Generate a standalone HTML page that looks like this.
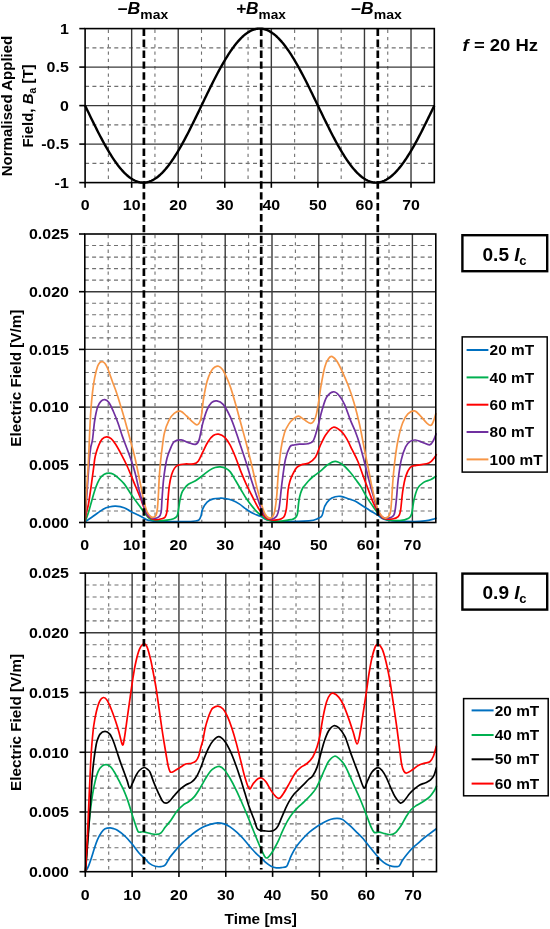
<!DOCTYPE html>
<html><head><meta charset="utf-8"><title>Figure</title>
<style>
html,body{margin:0;padding:0;background:#fff;}
body{width:550px;height:929px;overflow:hidden;font-family:"Liberation Sans",sans-serif;}
svg{display:block;will-change:transform;}
</style></head><body>
<svg width="550" height="929" viewBox="0 0 550 929">
<rect width="550" height="929" fill="#fff"/>
<line x1="108.38" y1="29.6" x2="108.38" y2="182.6" stroke="#707070" stroke-width="1.1" stroke-dasharray="3.3 4"/>
<line x1="154.94" y1="29.6" x2="154.94" y2="182.6" stroke="#707070" stroke-width="1.1" stroke-dasharray="3.3 4"/>
<line x1="201.5" y1="29.6" x2="201.5" y2="182.6" stroke="#707070" stroke-width="1.1" stroke-dasharray="3.3 4"/>
<line x1="248.06" y1="29.6" x2="248.06" y2="182.6" stroke="#707070" stroke-width="1.1" stroke-dasharray="3.3 4"/>
<line x1="294.62" y1="29.6" x2="294.62" y2="182.6" stroke="#707070" stroke-width="1.1" stroke-dasharray="3.3 4"/>
<line x1="341.18" y1="29.6" x2="341.18" y2="182.6" stroke="#707070" stroke-width="1.1" stroke-dasharray="3.3 4"/>
<line x1="387.74" y1="29.6" x2="387.74" y2="182.6" stroke="#707070" stroke-width="1.1" stroke-dasharray="3.3 4"/>
<line x1="85.1" y1="47.85" x2="434.3" y2="47.85" stroke="#707070" stroke-width="1.1" stroke-dasharray="4 3.3"/>
<line x1="85.1" y1="86.35" x2="434.3" y2="86.35" stroke="#707070" stroke-width="1.1" stroke-dasharray="4 3.3"/>
<line x1="85.1" y1="124.85" x2="434.3" y2="124.85" stroke="#707070" stroke-width="1.1" stroke-dasharray="4 3.3"/>
<line x1="85.1" y1="163.35" x2="434.3" y2="163.35" stroke="#707070" stroke-width="1.1" stroke-dasharray="4 3.3"/>
<line x1="131.66" y1="28.6" x2="131.66" y2="182.6" stroke="#3a3a3a" stroke-width="1.4"/>
<line x1="178.22" y1="28.6" x2="178.22" y2="182.6" stroke="#3a3a3a" stroke-width="1.4"/>
<line x1="224.78" y1="28.6" x2="224.78" y2="182.6" stroke="#3a3a3a" stroke-width="1.4"/>
<line x1="271.34" y1="28.6" x2="271.34" y2="182.6" stroke="#3a3a3a" stroke-width="1.4"/>
<line x1="317.9" y1="28.6" x2="317.9" y2="182.6" stroke="#3a3a3a" stroke-width="1.4"/>
<line x1="364.46" y1="28.6" x2="364.46" y2="182.6" stroke="#3a3a3a" stroke-width="1.4"/>
<line x1="411.02" y1="28.6" x2="411.02" y2="182.6" stroke="#3a3a3a" stroke-width="1.4"/>
<line x1="85.1" y1="67.1" x2="434.3" y2="67.1" stroke="#3a3a3a" stroke-width="1.4"/>
<line x1="85.1" y1="105.6" x2="434.3" y2="105.6" stroke="#3a3a3a" stroke-width="1.4"/>
<line x1="85.1" y1="144.1" x2="434.3" y2="144.1" stroke="#3a3a3a" stroke-width="1.4"/>
<polyline fill="none" stroke="#000" stroke-width="2.4" stroke-linejoin="round" points="85.1,105.6 86.26,108.02 87.43,110.43 88.59,112.85 89.76,115.25 90.92,117.65 92.08,120.03 93.25,122.4 94.41,124.75 95.58,127.08 96.74,129.39 97.9,131.68 99.07,133.95 100.23,136.18 101.4,138.39 102.56,140.56 103.72,142.7 104.89,144.8 106.05,146.86 107.22,148.88 108.38,150.86 109.54,152.79 110.71,154.68 111.87,156.52 113.04,158.31 114.2,160.05 115.36,161.73 116.53,163.36 117.69,164.93 118.86,166.44 120.02,167.89 121.18,169.29 122.35,170.61 123.51,171.88 124.68,173.08 125.84,174.21 127,175.27 128.17,176.27 129.33,177.19 130.5,178.05 131.66,178.83 132.82,179.54 133.99,180.18 135.15,180.75 136.32,181.24 137.48,181.65 138.64,181.99 139.81,182.26 140.97,182.45 142.14,182.56 143.3,182.6 144.46,182.56 145.63,182.45 146.79,182.26 147.96,181.99 149.12,181.65 150.28,181.24 151.45,180.75 152.61,180.18 153.78,179.54 154.94,178.83 156.1,178.05 157.27,177.19 158.43,176.27 159.6,175.27 160.76,174.21 161.92,173.08 163.09,171.88 164.25,170.61 165.42,169.29 166.58,167.89 167.74,166.44 168.91,164.93 170.07,163.36 171.24,161.73 172.4,160.05 173.56,158.31 174.73,156.52 175.89,154.68 177.06,152.79 178.22,150.86 179.38,148.88 180.55,146.86 181.71,144.8 182.88,142.7 184.04,140.56 185.2,138.39 186.37,136.18 187.53,133.95 188.7,131.68 189.86,129.39 191.02,127.08 192.19,124.75 193.35,122.4 194.52,120.03 195.68,117.65 196.84,115.25 198.01,112.85 199.17,110.43 200.34,108.02 201.5,105.6 202.66,103.18 203.83,100.77 204.99,98.35 206.16,95.95 207.32,93.55 208.48,91.17 209.65,88.8 210.81,86.45 211.98,84.12 213.14,81.81 214.3,79.52 215.47,77.25 216.63,75.02 217.8,72.81 218.96,70.64 220.12,68.5 221.29,66.4 222.45,64.34 223.62,62.32 224.78,60.34 225.94,58.41 227.11,56.52 228.27,54.68 229.44,52.89 230.6,51.15 231.76,49.47 232.93,47.84 234.09,46.27 235.26,44.76 236.42,43.31 237.58,41.91 238.75,40.59 239.91,39.32 241.08,38.12 242.24,36.99 243.4,35.93 244.57,34.93 245.73,34.01 246.9,33.15 248.06,32.37 249.22,31.66 250.39,31.02 251.55,30.45 252.72,29.96 253.88,29.55 255.04,29.21 256.21,28.94 257.37,28.75 258.54,28.64 259.7,28.6 260.86,28.64 262.03,28.75 263.19,28.94 264.36,29.21 265.52,29.55 266.68,29.96 267.85,30.45 269.01,31.02 270.18,31.66 271.34,32.37 272.5,33.15 273.67,34.01 274.83,34.93 276,35.93 277.16,36.99 278.32,38.12 279.49,39.32 280.65,40.59 281.82,41.91 282.98,43.31 284.14,44.76 285.31,46.27 286.47,47.84 287.64,49.47 288.8,51.15 289.96,52.89 291.13,54.68 292.29,56.52 293.46,58.41 294.62,60.34 295.78,62.32 296.95,64.34 298.11,66.4 299.28,68.5 300.44,70.64 301.6,72.81 302.77,75.02 303.93,77.25 305.1,79.52 306.26,81.81 307.42,84.12 308.59,86.45 309.75,88.8 310.92,91.17 312.08,93.55 313.24,95.95 314.41,98.35 315.57,100.77 316.74,103.18 317.9,105.6 319.06,108.02 320.23,110.43 321.39,112.85 322.56,115.25 323.72,117.65 324.88,120.03 326.05,122.4 327.21,124.75 328.38,127.08 329.54,129.39 330.7,131.68 331.87,133.95 333.03,136.18 334.2,138.39 335.36,140.56 336.52,142.7 337.69,144.8 338.85,146.86 340.02,148.88 341.18,150.86 342.34,152.79 343.51,154.68 344.67,156.52 345.84,158.31 347,160.05 348.16,161.73 349.33,163.36 350.49,164.93 351.66,166.44 352.82,167.89 353.98,169.29 355.15,170.61 356.31,171.88 357.48,173.08 358.64,174.21 359.8,175.27 360.97,176.27 362.13,177.19 363.3,178.05 364.46,178.83 365.62,179.54 366.79,180.18 367.95,180.75 369.12,181.24 370.28,181.65 371.44,181.99 372.61,182.26 373.77,182.45 374.94,182.56 376.1,182.6 377.26,182.56 378.43,182.45 379.59,182.26 380.76,181.99 381.92,181.65 383.08,181.24 384.25,180.75 385.41,180.18 386.58,179.54 387.74,178.83 388.9,178.05 390.07,177.19 391.23,176.27 392.4,175.27 393.56,174.21 394.72,173.08 395.89,171.88 397.05,170.61 398.22,169.29 399.38,167.89 400.54,166.44 401.71,164.93 402.87,163.36 404.04,161.73 405.2,160.05 406.36,158.31 407.53,156.52 408.69,154.68 409.86,152.79 411.02,150.86 412.18,148.88 413.35,146.86 414.51,144.8 415.68,142.7 416.84,140.56 418,138.39 419.17,136.18 420.33,133.95 421.5,131.68 422.66,129.39 423.82,127.08 424.99,124.75 426.15,122.4 427.32,120.03 428.48,117.65 429.64,115.25 430.81,112.85 431.97,110.43 433.14,108.02 434.3,105.6"/>
<rect x="85.1" y="28.6" width="349.2" height="154" fill="none" stroke="#000" stroke-width="1.6"/>
<line x1="79.3" y1="28.6" x2="85.1" y2="28.6" stroke="#000" stroke-width="1.6"/>
<line x1="79.3" y1="67.1" x2="85.1" y2="67.1" stroke="#000" stroke-width="1.6"/>
<line x1="79.3" y1="105.6" x2="85.1" y2="105.6" stroke="#000" stroke-width="1.6"/>
<line x1="79.3" y1="144.1" x2="85.1" y2="144.1" stroke="#000" stroke-width="1.6"/>
<line x1="79.3" y1="182.6" x2="85.1" y2="182.6" stroke="#000" stroke-width="1.6"/>
<line x1="85.1" y1="182.6" x2="85.1" y2="187.8" stroke="#000" stroke-width="1.6"/>
<line x1="131.66" y1="182.6" x2="131.66" y2="187.8" stroke="#000" stroke-width="1.6"/>
<line x1="178.22" y1="182.6" x2="178.22" y2="187.8" stroke="#000" stroke-width="1.6"/>
<line x1="224.78" y1="182.6" x2="224.78" y2="187.8" stroke="#000" stroke-width="1.6"/>
<line x1="271.34" y1="182.6" x2="271.34" y2="187.8" stroke="#000" stroke-width="1.6"/>
<line x1="317.9" y1="182.6" x2="317.9" y2="187.8" stroke="#000" stroke-width="1.6"/>
<line x1="364.46" y1="182.6" x2="364.46" y2="187.8" stroke="#000" stroke-width="1.6"/>
<line x1="411.02" y1="182.6" x2="411.02" y2="187.8" stroke="#000" stroke-width="1.6"/>
<line x1="108.2" y1="235" x2="108.2" y2="522.5" stroke="#707070" stroke-width="1.1" stroke-dasharray="3.3 4"/>
<line x1="155" y1="235" x2="155" y2="522.5" stroke="#707070" stroke-width="1.1" stroke-dasharray="3.3 4"/>
<line x1="201.8" y1="235" x2="201.8" y2="522.5" stroke="#707070" stroke-width="1.1" stroke-dasharray="3.3 4"/>
<line x1="248.6" y1="235" x2="248.6" y2="522.5" stroke="#707070" stroke-width="1.1" stroke-dasharray="3.3 4"/>
<line x1="295.4" y1="235" x2="295.4" y2="522.5" stroke="#707070" stroke-width="1.1" stroke-dasharray="3.3 4"/>
<line x1="342.2" y1="235" x2="342.2" y2="522.5" stroke="#707070" stroke-width="1.1" stroke-dasharray="3.3 4"/>
<line x1="389" y1="235" x2="389" y2="522.5" stroke="#707070" stroke-width="1.1" stroke-dasharray="3.3 4"/>
<line x1="84.8" y1="510.96" x2="435.8" y2="510.96" stroke="#707070" stroke-width="1.1" stroke-dasharray="4 3.3"/>
<line x1="84.8" y1="499.42" x2="435.8" y2="499.42" stroke="#707070" stroke-width="1.1" stroke-dasharray="4 3.3"/>
<line x1="84.8" y1="487.88" x2="435.8" y2="487.88" stroke="#707070" stroke-width="1.1" stroke-dasharray="4 3.3"/>
<line x1="84.8" y1="476.34" x2="435.8" y2="476.34" stroke="#707070" stroke-width="1.1" stroke-dasharray="4 3.3"/>
<line x1="84.8" y1="453.26" x2="435.8" y2="453.26" stroke="#707070" stroke-width="1.1" stroke-dasharray="4 3.3"/>
<line x1="84.8" y1="441.72" x2="435.8" y2="441.72" stroke="#707070" stroke-width="1.1" stroke-dasharray="4 3.3"/>
<line x1="84.8" y1="430.18" x2="435.8" y2="430.18" stroke="#707070" stroke-width="1.1" stroke-dasharray="4 3.3"/>
<line x1="84.8" y1="418.64" x2="435.8" y2="418.64" stroke="#707070" stroke-width="1.1" stroke-dasharray="4 3.3"/>
<line x1="84.8" y1="395.56" x2="435.8" y2="395.56" stroke="#707070" stroke-width="1.1" stroke-dasharray="4 3.3"/>
<line x1="84.8" y1="384.02" x2="435.8" y2="384.02" stroke="#707070" stroke-width="1.1" stroke-dasharray="4 3.3"/>
<line x1="84.8" y1="372.48" x2="435.8" y2="372.48" stroke="#707070" stroke-width="1.1" stroke-dasharray="4 3.3"/>
<line x1="84.8" y1="360.94" x2="435.8" y2="360.94" stroke="#707070" stroke-width="1.1" stroke-dasharray="4 3.3"/>
<line x1="84.8" y1="337.86" x2="435.8" y2="337.86" stroke="#707070" stroke-width="1.1" stroke-dasharray="4 3.3"/>
<line x1="84.8" y1="326.32" x2="435.8" y2="326.32" stroke="#707070" stroke-width="1.1" stroke-dasharray="4 3.3"/>
<line x1="84.8" y1="314.78" x2="435.8" y2="314.78" stroke="#707070" stroke-width="1.1" stroke-dasharray="4 3.3"/>
<line x1="84.8" y1="303.24" x2="435.8" y2="303.24" stroke="#707070" stroke-width="1.1" stroke-dasharray="4 3.3"/>
<line x1="84.8" y1="280.16" x2="435.8" y2="280.16" stroke="#707070" stroke-width="1.1" stroke-dasharray="4 3.3"/>
<line x1="84.8" y1="268.62" x2="435.8" y2="268.62" stroke="#707070" stroke-width="1.1" stroke-dasharray="4 3.3"/>
<line x1="84.8" y1="257.08" x2="435.8" y2="257.08" stroke="#707070" stroke-width="1.1" stroke-dasharray="4 3.3"/>
<line x1="84.8" y1="245.54" x2="435.8" y2="245.54" stroke="#707070" stroke-width="1.1" stroke-dasharray="4 3.3"/>
<line x1="131.6" y1="234" x2="131.6" y2="522.5" stroke="#3a3a3a" stroke-width="1.4"/>
<line x1="178.4" y1="234" x2="178.4" y2="522.5" stroke="#3a3a3a" stroke-width="1.4"/>
<line x1="225.2" y1="234" x2="225.2" y2="522.5" stroke="#3a3a3a" stroke-width="1.4"/>
<line x1="272" y1="234" x2="272" y2="522.5" stroke="#3a3a3a" stroke-width="1.4"/>
<line x1="318.8" y1="234" x2="318.8" y2="522.5" stroke="#3a3a3a" stroke-width="1.4"/>
<line x1="365.6" y1="234" x2="365.6" y2="522.5" stroke="#3a3a3a" stroke-width="1.4"/>
<line x1="412.4" y1="234" x2="412.4" y2="522.5" stroke="#3a3a3a" stroke-width="1.4"/>
<line x1="84.8" y1="464.8" x2="435.8" y2="464.8" stroke="#3a3a3a" stroke-width="1.4"/>
<line x1="84.8" y1="407.1" x2="435.8" y2="407.1" stroke="#3a3a3a" stroke-width="1.4"/>
<line x1="84.8" y1="349.4" x2="435.8" y2="349.4" stroke="#3a3a3a" stroke-width="1.4"/>
<line x1="84.8" y1="291.7" x2="435.8" y2="291.7" stroke="#3a3a3a" stroke-width="1.4"/>
<path d="M85.2 521.8C86.25 521.08 89.43 518.97 91.5 517.5C93.57 516.03 95.58 514.43 97.6 513C99.62 511.57 101.72 509.9 103.6 508.9C105.48 507.9 106.9 507.45 108.9 507C110.9 506.55 113.08 506.08 115.6 506.2C118.12 506.32 120.97 506.55 124 507.7C127.03 508.85 131.2 511.75 133.8 513.1C136.4 514.45 137.87 514.93 139.6 515.8C141.33 516.67 142.68 517.55 144.2 518.3C145.72 519.05 146.42 519.77 148.7 520.3C150.98 520.83 151.85 521.28 157.9 521.5C163.95 521.72 178.73 521.68 185 521.6C191.27 521.52 193.17 521.3 195.5 521C197.83 520.7 198.08 520.63 199 519.8C199.92 518.97 200.4 517.77 201 516C201.6 514.23 201.58 511.52 202.6 509.2C203.62 506.88 205.32 503.82 207.1 502.1C208.88 500.38 211.08 499.55 213.3 498.9C215.52 498.25 218.45 498.27 220.4 498.2C222.35 498.13 223.05 498.15 225 498.5C226.95 498.85 229.73 499.4 232.1 500.3C234.47 501.2 236.83 502.42 239.2 503.9C241.57 505.38 243.93 507.58 246.3 509.2C248.67 510.82 251.03 512.42 253.4 513.6C255.77 514.78 258.13 515.25 260.5 516.3C262.87 517.35 264.35 519.03 267.6 519.9C270.85 520.77 273.13 521.35 280 521.5C286.87 521.65 302.43 521.32 308.8 520.8C315.17 520.28 316 519.27 318.2 518.4C320.4 517.53 320.9 517.63 322 515.6C323.1 513.57 323.55 508.87 324.8 506.2C326.05 503.53 327.77 501.17 329.5 499.6C331.23 498.03 333.32 497.33 335.2 496.8C337.08 496.27 338.62 496.08 340.8 496.4C342.98 496.72 345.93 497.92 348.3 498.7C350.67 499.48 352.88 500.08 355 501.1C357.12 502.12 359.02 503.57 361 504.8C362.98 506.03 364.92 507.25 366.9 508.5C368.88 509.75 371.15 511.23 372.9 512.3C374.65 513.37 375.67 513.78 377.4 514.9C379.13 516.02 380.82 518 383.3 519C385.78 520 387.08 520.48 392.3 520.9C397.52 521.32 409.13 521.5 414.6 521.5C420.07 521.5 422.12 521.25 425.1 520.9C428.08 520.55 430.6 519.9 432.5 519.4C434.4 518.9 435.83 518.15 436.5 517.9" fill="none" stroke="#0070c0" stroke-width="1.7" stroke-linejoin="round"/>
<path d="M85.2 521.8C85.75 520.22 87.45 515.65 88.5 512.3C89.55 508.95 90.5 505.22 91.5 501.7C92.5 498.18 93.48 494.33 94.5 491.2C95.52 488.07 96.58 485.17 97.6 482.9C98.62 480.63 99.48 479.05 100.6 477.6C101.72 476.15 102.92 474.95 104.3 474.2C105.68 473.45 107.38 473.1 108.9 473.1C110.42 473.1 111.9 473.45 113.4 474.2C114.9 474.95 116.13 476.03 117.9 477.6C119.67 479.17 122.15 481.37 124 483.6C125.85 485.83 127.37 488.55 129 491C130.63 493.45 132.03 495.82 133.8 498.3C135.57 500.78 137.92 503.62 139.6 505.9C141.28 508.18 142.22 509.85 143.9 512C145.58 514.15 147.37 517.37 149.7 518.8C152.03 520.23 155.02 520.38 157.9 520.6C160.78 520.82 164.4 520.4 167 520.1C169.6 519.8 171.82 519.48 173.5 518.8C175.18 518.12 176.27 517.53 177.1 516C177.93 514.47 178.03 512.2 178.5 509.6C178.97 507 179.37 503.15 179.9 500.4C180.43 497.65 181.02 495 181.7 493.1C182.38 491.2 182.88 490.47 184 489C185.12 487.53 186.48 485.67 188.4 484.3C190.32 482.93 193.13 482.27 195.5 480.8C197.87 479.33 200.23 477.28 202.6 475.5C204.97 473.72 207.62 471.43 209.7 470.1C211.78 468.77 213.32 468.03 215.1 467.5C216.88 466.97 218.63 466.77 220.4 466.9C222.17 467.03 224.05 467.47 225.7 468.3C227.35 469.13 228.63 469.82 230.3 471.9C231.97 473.98 233.92 477.83 235.7 480.8C237.48 483.77 239.23 486.75 241 489.7C242.77 492.65 244.53 495.85 246.3 498.5C248.07 501.15 249.82 503.37 251.6 505.6C253.38 507.83 255.37 510.27 257 511.9C258.63 513.53 259.63 514.07 261.4 515.4C263.17 516.73 264.78 518.92 267.6 519.9C270.42 520.88 274.75 521.3 278.3 521.3C281.85 521.3 286.62 520.2 288.9 519.9C291.18 519.6 290.98 519.82 292 519.5C293.02 519.18 294.23 518.58 295 518C295.77 517.42 296.17 516.85 296.6 516C297.03 515.15 297.23 515.32 297.6 512.9C297.97 510.48 298.32 504.72 298.8 501.5C299.28 498.28 299.85 495.85 300.5 493.6C301.15 491.35 301.95 489.42 302.7 488C303.45 486.58 304.12 486.18 305 485.1C305.88 484.02 306.73 482.85 308 481.5C309.27 480.15 310.58 478.68 312.6 477C314.62 475.32 317.6 473.43 320.1 471.4C322.6 469.37 325.08 466.47 327.6 464.8C330.12 463.13 332.68 461.4 335.2 461.4C337.72 461.4 340.2 462.98 342.7 464.8C345.2 466.62 348 469.8 350.2 472.3C352.4 474.8 354.1 477.37 355.9 479.8C357.7 482.23 359.17 483.97 361 486.9C362.83 489.83 364.92 494.17 366.9 497.4C368.88 500.63 371.15 503.82 372.9 506.3C374.65 508.78 375.42 510.18 377.4 512.3C379.38 514.42 381.08 517.63 384.8 519C388.52 520.37 395.72 520.63 399.7 520.5C403.68 520.37 406.7 519.33 408.7 518.2C410.7 517.07 410.83 516.68 411.7 513.7C412.57 510.72 412.92 504.52 413.9 500.3C414.88 496.08 415.98 491.38 417.6 488.4C419.22 485.42 421.37 483.88 423.6 482.4C425.83 480.92 428.85 480.62 431 479.5C433.15 478.38 435.58 476.33 436.5 475.7" fill="none" stroke="#00b050" stroke-width="1.7" stroke-linejoin="round"/>
<path d="M84.9 521.8C85.17 520.17 85.9 514.97 86.5 512C87.1 509.03 87.67 508.73 88.5 504C89.33 499.27 90.62 489.88 91.5 483.6C92.38 477.32 93.17 470.9 93.8 466.3C94.43 461.7 94.48 459.48 95.3 456C96.12 452.52 97.57 448.2 98.7 445.4C99.83 442.6 100.78 440.62 102.1 439.2C103.42 437.78 105.1 437 106.6 436.9C108.1 436.8 109.6 437.37 111.1 438.6C112.6 439.83 113.9 441.67 115.6 444.3C117.3 446.93 119.38 450.78 121.3 454.4C123.22 458.02 125.02 461.38 127.1 466C129.18 470.62 131.57 476.72 133.8 482.1C136.03 487.48 138.82 494.07 140.5 498.3C142.18 502.53 142.9 505.05 143.9 507.5C144.9 509.95 145.7 511.43 146.5 513C147.3 514.57 147.27 515.78 148.7 516.9C150.13 518.02 152.95 519.38 155.1 519.7C157.25 520.02 159.92 519.27 161.6 518.8C163.28 518.33 164.3 518.13 165.2 516.9C166.1 515.67 166.53 514.3 167 511.4C167.47 508.5 167.62 503.77 168 499.5C168.38 495.23 168.7 489.92 169.3 485.8C169.9 481.68 170.75 477.7 171.6 474.8C172.45 471.9 173.33 470 174.4 468.4C175.47 466.8 176.23 465.93 178 465.2C179.77 464.47 182.38 464.22 185 464C187.62 463.78 191.5 464.37 193.7 463.9C195.9 463.43 196.72 463.12 198.2 461.2C199.68 459.28 200.97 455.65 202.6 452.4C204.23 449.15 206.22 444.52 208 441.7C209.78 438.88 211.53 436.75 213.3 435.5C215.07 434.25 216.68 433.9 218.6 434.2C220.52 434.5 222.85 435.45 224.8 437.3C226.75 439.15 228.48 441.9 230.3 445.3C232.12 448.7 233.92 453.27 235.7 457.7C237.48 462.13 239.23 467.47 241 471.9C242.77 476.33 244.53 480.45 246.3 484.3C248.07 488.15 249.82 491.45 251.6 495C253.38 498.55 255.37 502.63 257 505.6C258.63 508.57 259.63 510.57 261.4 512.8C263.17 515.03 265.08 517.82 267.6 519C270.12 520.18 273.83 520.2 276.5 519.9C279.17 519.6 281.97 518.98 283.6 517.2C285.23 515.42 285.55 513.73 286.3 509.2C287.05 504.67 287.48 494.7 288.1 490C288.72 485.3 289.22 483.63 290 481C290.78 478.37 291.7 476.43 292.8 474.2C293.9 471.97 295.18 469.17 296.6 467.6C298.02 466.03 299.27 465.58 301.3 464.8C303.33 464.02 306.45 464.15 308.8 462.9C311.15 461.65 313.52 460.12 315.4 457.3C317.28 454.48 318.37 449.77 320.1 446C321.83 442.23 323.6 437.83 325.8 434.7C328 431.57 330.8 427.83 333.3 427.2C335.8 426.57 338.6 429.03 340.8 430.9C343 432.77 344.62 435.27 346.5 438.4C348.38 441.53 350.23 445.93 352.1 449.7C353.97 453.47 355.73 456.28 357.7 461C359.67 465.72 362.12 473.18 363.9 478C365.68 482.82 366.9 485.93 368.4 489.9C369.9 493.87 371.4 498.32 372.9 501.8C374.4 505.28 375.67 508.07 377.4 510.8C379.13 513.53 380.82 516.83 383.3 518.2C385.78 519.57 389.82 519.25 392.3 519C394.78 518.75 396.83 518.07 398.2 516.7C399.57 515.33 399.75 515.02 400.5 510.8C401.25 506.58 401.83 497.12 402.7 491.4C403.57 485.68 404.45 480.48 405.7 476.5C406.95 472.52 408.47 469.37 410.2 467.5C411.93 465.63 413.37 465.92 416.1 465.3C418.83 464.68 424.12 464.42 426.6 463.8C429.08 463.18 429.63 462.72 431 461.6C432.37 460.48 433.88 458.37 434.8 457.1C435.72 455.83 436.22 454.52 436.5 454" fill="none" stroke="#ff0000" stroke-width="1.7" stroke-linejoin="round"/>
<path d="M84.9 521.8C85.17 518.17 85.98 507.3 86.5 500C87.02 492.7 87.5 485 88 478C88.5 471 89.03 463.17 89.5 458C89.97 452.83 90.3 450.05 90.8 447C91.3 443.95 91.85 444.12 92.5 439.7C93.15 435.28 93.85 425.95 94.7 420.5C95.55 415.05 96.57 410.2 97.6 407C98.63 403.8 99.68 402.53 100.9 401.3C102.12 400.07 103.57 399.4 104.9 399.6C106.23 399.8 107.48 400.52 108.9 402.5C110.32 404.48 111.9 408.12 113.4 411.5C114.9 414.88 116.4 418.65 117.9 422.8C119.4 426.95 121.05 432.53 122.4 436.4C123.75 440.27 124.55 442.07 126 446C127.45 449.93 129.6 455.58 131.1 460C132.6 464.42 133.58 467.17 135 472.5C136.42 477.83 138.12 486.33 139.6 492C141.08 497.67 142.53 502.65 143.9 506.5C145.27 510.35 146.23 513.13 147.8 515.1C149.37 517.07 151.47 518 153.3 518.3C155.13 518.6 157.5 517.9 158.8 516.9C160.1 515.9 160.57 515.2 161.1 512.3C161.63 509.4 161.62 504.68 162 499.5C162.38 494.32 162.87 486.53 163.4 481.2C163.93 475.87 164.6 471.32 165.2 467.5C165.8 463.68 166.23 461.2 167 458.3C167.77 455.4 168.6 452.87 169.8 450.1C171 447.33 172.28 443.4 174.2 441.7C176.12 440 178.93 439.75 181.3 439.9C183.67 440.05 186.03 441.85 188.4 442.6C190.77 443.35 193.72 444.85 195.5 444.4C197.28 443.95 197.92 443.32 199.1 439.9C200.28 436.48 201.27 428.93 202.6 423.9C203.93 418.87 205.62 413.25 207.1 409.7C208.58 406.15 209.88 404.07 211.5 402.6C213.12 401.13 214.87 400.6 216.8 400.9C218.73 401.2 220.85 401.75 223.1 404.4C225.35 407.05 228.2 412.37 230.3 416.8C232.4 421.23 233.92 425.97 235.7 431C237.48 436.03 239.23 441.67 241 447C242.77 452.33 244.53 457.37 246.3 463C248.07 468.63 249.82 475.17 251.6 480.8C253.38 486.43 255.37 492.07 257 496.8C258.63 501.53 259.92 505.95 261.4 509.2C262.88 512.45 264.27 514.67 265.9 516.3C267.53 517.93 269.43 519 271.2 519C272.97 519 275.17 518.23 276.5 516.3C277.83 514.37 278.32 512.73 279.2 507.4C280.08 502.07 280.77 492.28 281.8 484.3C282.83 476.32 284.07 465.72 285.4 459.5C286.73 453.28 288.4 449.42 289.8 447C291.2 444.58 292.2 445.48 293.8 445C295.4 444.52 297.05 444.32 299.4 444.1C301.75 443.88 305.55 444.33 307.9 443.7C310.25 443.07 311.78 443.37 313.5 440.3C315.22 437.23 316.78 430.32 318.2 425.3C319.62 420.28 320.58 414.92 322 410.2C323.42 405.48 324.82 400.07 326.7 397C328.58 393.93 331.27 392.1 333.3 391.8C335.33 391.5 337.02 393.07 338.9 395.2C340.78 397.33 342.72 400.53 344.6 404.6C346.48 408.67 348.38 415.03 350.2 419.6C352.02 424.17 353.95 427.98 355.5 432C357.05 436.02 358.1 439.02 359.5 443.7C360.9 448.38 362.42 454.38 363.9 460.1C365.38 465.82 366.9 472.28 368.4 478C369.9 483.72 371.4 489.18 372.9 494.4C374.4 499.62 375.92 505.58 377.4 509.3C378.88 513.02 380.07 515.22 381.8 516.7C383.53 518.18 385.8 518.45 387.8 518.2C389.8 517.95 392.43 517.68 393.8 515.2C395.17 512.72 395.27 509.25 396 503.3C396.73 497.35 397.33 486.7 398.2 479.5C399.07 472.3 399.95 465.57 401.2 460.1C402.45 454.63 404.2 449.82 405.7 446.7C407.2 443.58 408.58 442.52 410.2 441.4C411.82 440.28 413.42 439.87 415.4 440C417.38 440.13 419.75 441.38 422.1 442.2C424.45 443.02 427.63 445.15 429.5 444.9C431.37 444.65 432.17 442.65 433.3 440.7C434.43 438.75 435.8 434.45 436.3 433.2" fill="none" stroke="#7030a0" stroke-width="1.7" stroke-linejoin="round"/>
<path d="M84.9 521.8C85.13 517.33 85.85 502.8 86.3 495C86.75 487.2 87.23 480.83 87.6 475C87.97 469.17 88.17 466.82 88.5 460C88.83 453.18 89.22 442.18 89.6 434.1C89.98 426.02 90.32 418.47 90.8 411.5C91.28 404.53 91.85 397.95 92.5 392.3C93.15 386.65 93.85 381.93 94.7 377.6C95.55 373.27 96.72 368.82 97.6 366.3C98.48 363.78 99.18 363.27 100 362.5C100.82 361.73 101.63 361.48 102.5 361.7C103.37 361.92 104.33 362.67 105.2 363.8C106.07 364.93 106.53 365.63 107.7 368.5C108.87 371.37 110.68 376.85 112.2 381C113.72 385.15 115.28 388.88 116.8 393.4C118.32 397.92 120.03 403.92 121.3 408.1C122.57 412.28 122.77 412.68 124.4 418.5C126.03 424.32 129.33 436.42 131.1 443C132.87 449.58 133.58 451.83 135 458C136.42 464.17 138.12 472.83 139.6 480C141.08 487.17 142.68 495.75 143.9 501C145.12 506.25 145.78 508.92 146.9 511.5C148.02 514.08 149.53 515.52 150.6 516.5C151.67 517.48 152.38 517.63 153.3 517.4C154.22 517.17 155.42 516.55 156.1 515.1C156.78 513.65 157.02 512.07 157.4 508.7C157.78 505.33 158.08 500.25 158.4 494.9C158.72 489.55 158.93 482.23 159.3 476.6C159.67 470.97 160.15 465.67 160.6 461.1C161.05 456.53 161.37 453.88 162 449.2C162.63 444.52 163.25 437.8 164.4 433C165.55 428.2 167.27 423.68 168.9 420.4C170.53 417.12 172.28 414.83 174.2 413.3C176.12 411.77 178.33 410.75 180.4 411.2C182.47 411.65 184.52 414.17 186.6 416C188.68 417.83 191.12 420.73 192.9 422.2C194.68 423.67 195.97 425.4 197.3 424.8C198.63 424.2 199.87 422.88 200.9 418.6C201.93 414.32 202.47 405.32 203.5 399.1C204.53 392.88 205.77 386.03 207.1 381.3C208.43 376.57 210.18 373.08 211.5 370.7C212.82 368.32 213.82 367.75 215 367C216.18 366.25 217.35 365.78 218.6 366.2C219.85 366.62 221.27 367.87 222.5 369.5C223.73 371.13 224.7 373.15 226 376C227.3 378.85 228.68 381.87 230.3 386.6C231.92 391.33 233.92 398.17 235.7 404.4C237.48 410.63 239.23 417.48 241 424C242.77 430.52 244.53 436.7 246.3 443.5C248.07 450.3 249.82 457.4 251.6 464.8C253.38 472.2 255.37 481.38 257 487.9C258.63 494.42 260.07 499.55 261.4 503.9C262.73 508.25 263.67 511.63 265 514C266.33 516.37 267.93 518.02 269.4 518.1C270.87 518.18 272.62 517.77 273.8 514.5C274.98 511.23 275.75 505.3 276.5 498.5C277.25 491.7 277.55 481.98 278.3 473.7C279.05 465.42 279.97 455.62 281 448.8C282.03 441.98 283.18 436.95 284.5 432.8C285.82 428.65 287.35 426.25 288.9 423.9C290.45 421.55 292.2 419.98 293.8 418.7C295.4 417.42 296.78 416.05 298.5 416.2C300.22 416.35 302.07 418.4 304.1 419.6C306.13 420.8 308.82 423.72 310.7 423.4C312.58 423.08 314.15 420.83 315.4 417.7C316.65 414.57 317.27 409.92 318.2 404.6C319.13 399.28 319.9 392.08 321 385.8C322.1 379.52 323.53 371.45 324.8 366.9C326.07 362.35 327.35 360.22 328.6 358.5C329.85 356.78 330.9 356.13 332.3 356.6C333.7 357.07 335.27 358.63 337 361.3C338.73 363.97 340.82 368.52 342.7 372.6C344.58 376.68 346.42 380.78 348.3 385.8C350.18 390.82 352.13 396.28 354 402.7C355.87 409.12 357.85 416.97 359.5 424.3C361.15 431.63 362.42 439.25 363.9 446.7C365.38 454.15 366.9 461.55 368.4 469C369.9 476.45 371.4 484.93 372.9 491.4C374.4 497.87 376.03 503.83 377.4 507.8C378.77 511.77 379.73 513.47 381.1 515.2C382.47 516.93 384.12 518.45 385.6 518.2C387.08 517.95 389.02 516.43 390 513.7C390.98 510.97 391 507.5 391.5 501.8C392 496.1 392.37 486.95 393 479.5C393.63 472.05 394.43 463.82 395.3 457.1C396.17 450.38 396.97 444.92 398.2 439.2C399.43 433.48 401.08 427.02 402.7 422.8C404.32 418.58 405.92 415.88 407.9 413.9C409.88 411.92 412.48 410.53 414.6 410.9C416.72 411.27 418.6 414.12 420.6 416.1C422.6 418.08 424.87 421.27 426.6 422.8C428.33 424.33 429.77 425.8 431 425.3C432.23 424.8 433.17 421.85 434 419.8C434.83 417.75 435.67 414.13 436 413" fill="none" stroke="#f79646" stroke-width="1.7" stroke-linejoin="round"/>
<rect x="84.8" y="234" width="351" height="288.5" fill="none" stroke="#000" stroke-width="1.6"/>
<line x1="79" y1="522.5" x2="84.8" y2="522.5" stroke="#000" stroke-width="1.6"/>
<line x1="79" y1="464.8" x2="84.8" y2="464.8" stroke="#000" stroke-width="1.6"/>
<line x1="79" y1="407.1" x2="84.8" y2="407.1" stroke="#000" stroke-width="1.6"/>
<line x1="79" y1="349.4" x2="84.8" y2="349.4" stroke="#000" stroke-width="1.6"/>
<line x1="79" y1="291.7" x2="84.8" y2="291.7" stroke="#000" stroke-width="1.6"/>
<line x1="79" y1="234" x2="84.8" y2="234" stroke="#000" stroke-width="1.6"/>
<line x1="84.8" y1="522.5" x2="84.8" y2="527.7" stroke="#000" stroke-width="1.6"/>
<line x1="131.6" y1="522.5" x2="131.6" y2="527.7" stroke="#000" stroke-width="1.6"/>
<line x1="178.4" y1="522.5" x2="178.4" y2="527.7" stroke="#000" stroke-width="1.6"/>
<line x1="225.2" y1="522.5" x2="225.2" y2="527.7" stroke="#000" stroke-width="1.6"/>
<line x1="272" y1="522.5" x2="272" y2="527.7" stroke="#000" stroke-width="1.6"/>
<line x1="318.8" y1="522.5" x2="318.8" y2="527.7" stroke="#000" stroke-width="1.6"/>
<line x1="365.6" y1="522.5" x2="365.6" y2="527.7" stroke="#000" stroke-width="1.6"/>
<line x1="412.4" y1="522.5" x2="412.4" y2="527.7" stroke="#000" stroke-width="1.6"/>
<line x1="108.71" y1="574.1" x2="108.71" y2="871.7" stroke="#707070" stroke-width="1.1" stroke-dasharray="3.3 4"/>
<line x1="155.54" y1="574.1" x2="155.54" y2="871.7" stroke="#707070" stroke-width="1.1" stroke-dasharray="3.3 4"/>
<line x1="202.37" y1="574.1" x2="202.37" y2="871.7" stroke="#707070" stroke-width="1.1" stroke-dasharray="3.3 4"/>
<line x1="249.19" y1="574.1" x2="249.19" y2="871.7" stroke="#707070" stroke-width="1.1" stroke-dasharray="3.3 4"/>
<line x1="296.02" y1="574.1" x2="296.02" y2="871.7" stroke="#707070" stroke-width="1.1" stroke-dasharray="3.3 4"/>
<line x1="342.85" y1="574.1" x2="342.85" y2="871.7" stroke="#707070" stroke-width="1.1" stroke-dasharray="3.3 4"/>
<line x1="389.67" y1="574.1" x2="389.67" y2="871.7" stroke="#707070" stroke-width="1.1" stroke-dasharray="3.3 4"/>
<line x1="85.3" y1="859.76" x2="436.5" y2="859.76" stroke="#707070" stroke-width="1.1" stroke-dasharray="4 3.3"/>
<line x1="85.3" y1="847.81" x2="436.5" y2="847.81" stroke="#707070" stroke-width="1.1" stroke-dasharray="4 3.3"/>
<line x1="85.3" y1="835.87" x2="436.5" y2="835.87" stroke="#707070" stroke-width="1.1" stroke-dasharray="4 3.3"/>
<line x1="85.3" y1="823.92" x2="436.5" y2="823.92" stroke="#707070" stroke-width="1.1" stroke-dasharray="4 3.3"/>
<line x1="85.3" y1="800.04" x2="436.5" y2="800.04" stroke="#707070" stroke-width="1.1" stroke-dasharray="4 3.3"/>
<line x1="85.3" y1="788.09" x2="436.5" y2="788.09" stroke="#707070" stroke-width="1.1" stroke-dasharray="4 3.3"/>
<line x1="85.3" y1="776.15" x2="436.5" y2="776.15" stroke="#707070" stroke-width="1.1" stroke-dasharray="4 3.3"/>
<line x1="85.3" y1="764.2" x2="436.5" y2="764.2" stroke="#707070" stroke-width="1.1" stroke-dasharray="4 3.3"/>
<line x1="85.3" y1="740.32" x2="436.5" y2="740.32" stroke="#707070" stroke-width="1.1" stroke-dasharray="4 3.3"/>
<line x1="85.3" y1="728.37" x2="436.5" y2="728.37" stroke="#707070" stroke-width="1.1" stroke-dasharray="4 3.3"/>
<line x1="85.3" y1="716.43" x2="436.5" y2="716.43" stroke="#707070" stroke-width="1.1" stroke-dasharray="4 3.3"/>
<line x1="85.3" y1="704.48" x2="436.5" y2="704.48" stroke="#707070" stroke-width="1.1" stroke-dasharray="4 3.3"/>
<line x1="85.3" y1="680.6" x2="436.5" y2="680.6" stroke="#707070" stroke-width="1.1" stroke-dasharray="4 3.3"/>
<line x1="85.3" y1="668.65" x2="436.5" y2="668.65" stroke="#707070" stroke-width="1.1" stroke-dasharray="4 3.3"/>
<line x1="85.3" y1="656.71" x2="436.5" y2="656.71" stroke="#707070" stroke-width="1.1" stroke-dasharray="4 3.3"/>
<line x1="85.3" y1="644.76" x2="436.5" y2="644.76" stroke="#707070" stroke-width="1.1" stroke-dasharray="4 3.3"/>
<line x1="85.3" y1="620.88" x2="436.5" y2="620.88" stroke="#707070" stroke-width="1.1" stroke-dasharray="4 3.3"/>
<line x1="85.3" y1="608.93" x2="436.5" y2="608.93" stroke="#707070" stroke-width="1.1" stroke-dasharray="4 3.3"/>
<line x1="85.3" y1="596.99" x2="436.5" y2="596.99" stroke="#707070" stroke-width="1.1" stroke-dasharray="4 3.3"/>
<line x1="85.3" y1="585.04" x2="436.5" y2="585.04" stroke="#707070" stroke-width="1.1" stroke-dasharray="4 3.3"/>
<line x1="132.13" y1="573.1" x2="132.13" y2="871.7" stroke="#3a3a3a" stroke-width="1.4"/>
<line x1="178.95" y1="573.1" x2="178.95" y2="871.7" stroke="#3a3a3a" stroke-width="1.4"/>
<line x1="225.78" y1="573.1" x2="225.78" y2="871.7" stroke="#3a3a3a" stroke-width="1.4"/>
<line x1="272.61" y1="573.1" x2="272.61" y2="871.7" stroke="#3a3a3a" stroke-width="1.4"/>
<line x1="319.43" y1="573.1" x2="319.43" y2="871.7" stroke="#3a3a3a" stroke-width="1.4"/>
<line x1="366.26" y1="573.1" x2="366.26" y2="871.7" stroke="#3a3a3a" stroke-width="1.4"/>
<line x1="413.09" y1="573.1" x2="413.09" y2="871.7" stroke="#3a3a3a" stroke-width="1.4"/>
<line x1="85.3" y1="811.98" x2="436.5" y2="811.98" stroke="#3a3a3a" stroke-width="1.4"/>
<line x1="85.3" y1="752.26" x2="436.5" y2="752.26" stroke="#3a3a3a" stroke-width="1.4"/>
<line x1="85.3" y1="692.54" x2="436.5" y2="692.54" stroke="#3a3a3a" stroke-width="1.4"/>
<line x1="85.3" y1="632.82" x2="436.5" y2="632.82" stroke="#3a3a3a" stroke-width="1.4"/>
<path d="M85.5 871.4C85.97 870.6 87.32 868.85 88.3 866.6C89.28 864.35 90.37 861 91.4 857.9C92.43 854.8 93.47 851.1 94.5 848C95.53 844.9 96.45 841.88 97.6 839.3C98.75 836.72 100.15 834.25 101.4 832.5C102.65 830.75 103.67 829.57 105.1 828.8C106.53 828.03 108.52 827.9 110 827.9C111.48 827.9 112.77 828.4 114 828.8C115.23 829.2 115.62 829.13 117.4 830.3C119.18 831.47 122.28 833.55 124.7 835.8C127.12 838.05 129.48 840.88 131.9 843.8C134.32 846.72 137.02 850.83 139.2 853.3C141.38 855.77 143.3 856.92 145 858.6C146.7 860.28 147.7 862.12 149.4 863.4C151.1 864.68 153.27 865.77 155.2 866.3C157.13 866.83 159.32 866.83 161 866.6C162.68 866.37 163.85 866.4 165.3 864.9C166.75 863.4 168 860.02 169.7 857.6C171.4 855.18 173.57 852.7 175.5 850.4C177.43 848.1 179.12 845.98 181.3 843.8C183.48 841.62 186.18 839.35 188.6 837.3C191.02 835.25 193.38 833.2 195.8 831.5C198.22 829.8 200.7 828.28 203.1 827.1C205.5 825.92 207.78 825.12 210.2 824.4C212.62 823.68 215.3 822.88 217.6 822.8C219.9 822.72 221.87 823.18 224 823.9C226.13 824.62 228.28 825.72 230.4 827.1C232.52 828.48 234.58 830.3 236.7 832.2C238.82 834.1 240.97 836.17 243.1 838.5C245.23 840.83 247.38 843.75 249.5 846.2C251.62 848.65 253.9 851.3 255.8 853.2C257.7 855.1 259.2 856.02 260.9 857.6C262.6 859.18 264.3 861.25 266 862.7C267.7 864.15 269.4 865.45 271.1 866.3C272.8 867.15 274.48 867.58 276.2 867.8C277.92 868.02 279.68 867.82 281.4 867.6C283.12 867.38 285.33 867.32 286.5 866.5C287.67 865.68 287.57 864.6 288.4 862.7C289.23 860.8 290.13 857.85 291.5 855.1C292.87 852.35 294.68 848.97 296.6 846.2C298.52 843.43 300.87 840.83 303 838.5C305.13 836.17 307.07 834.2 309.4 832.2C311.73 830.2 314.47 828.2 317 826.5C319.53 824.8 322.27 823.22 324.6 822C326.93 820.78 328.87 819.8 331 819.2C333.13 818.6 335.48 818.35 337.4 818.4C339.32 818.45 341.1 818.88 342.5 819.5C343.9 820.12 344.28 820.83 345.8 822.1C347.32 823.37 349.67 825.3 351.6 827.1C353.53 828.9 355.47 830.95 357.4 832.9C359.33 834.85 361.27 836.62 363.2 838.8C365.13 840.98 367.05 843.58 369 846C370.95 848.42 372.95 851 374.9 853.3C376.85 855.6 378.77 857.98 380.7 859.8C382.63 861.62 384.57 863.12 386.5 864.2C388.43 865.28 390.37 865.92 392.3 866.3C394.23 866.68 396.78 866.8 398.1 866.5C399.42 866.2 399.5 865.5 400.2 864.5C400.9 863.5 401.23 862.13 402.3 860.5C403.37 858.87 404.92 856.77 406.6 854.7C408.28 852.63 410.47 850.03 412.4 848.1C414.33 846.17 416.27 844.78 418.2 843.1C420.13 841.42 422.07 839.58 424 838C425.93 836.42 427.68 835.18 429.8 833.6C431.92 832.02 435.55 829.35 436.7 828.5" fill="none" stroke="#0070c0" stroke-width="1.7" stroke-linejoin="round"/>
<path d="M85.5 871.4C85.77 867.3 86.52 854.62 87.1 846.8C87.68 838.98 88.38 831.12 89 824.5C89.62 817.88 90.18 812.27 90.8 807.1C91.42 801.93 91.97 797.83 92.7 793.5C93.43 789.17 94.27 784.82 95.2 781.1C96.13 777.38 97.17 773.68 98.3 771.2C99.43 768.72 100.67 767.28 102 766.2C103.33 765.12 104.85 764.6 106.3 764.7C107.75 764.8 109.42 765.67 110.7 766.8C111.98 767.93 112.97 769.87 114 771.5C115.03 773.13 115.85 774.62 116.9 776.6C117.95 778.58 119.15 781.12 120.3 783.4C121.45 785.68 122.65 787.72 123.8 790.3C124.95 792.88 126.12 795.88 127.2 798.9C128.28 801.92 129.27 805.13 130.3 808.4C131.33 811.67 132.17 814.77 133.4 818.5C134.63 822.23 136.62 828.52 137.7 830.8C138.78 833.08 138.93 832.03 139.9 832.2C140.87 832.37 141.68 831.55 143.5 831.8C145.32 832.05 148.62 833.27 150.8 833.7C152.98 834.13 154.9 834.53 156.6 834.4C158.3 834.27 159.55 834.12 161 832.9C162.45 831.68 163.62 829.27 165.3 827.1C166.98 824.93 169.17 822.55 171.1 819.9C173.03 817.25 174.95 813.63 176.9 811.2C178.85 808.77 180.85 806.88 182.8 805.3C184.75 803.72 186.67 803.15 188.6 801.7C190.53 800.25 192.47 798.9 194.4 796.6C196.33 794.3 198.27 791.03 200.2 787.9C202.13 784.77 204.3 780.58 206 777.8C207.7 775.02 209 772.85 210.4 771.2C211.8 769.55 212.9 768.7 214.4 767.9C215.9 767.1 217.72 766.05 219.4 766.4C221.08 766.75 222.68 767.93 224.5 770C226.32 772.07 228.33 775.42 230.3 778.8C232.27 782.18 234.38 786.35 236.3 790.3C238.22 794.25 240.03 798.48 241.8 802.5C243.57 806.52 245.2 810.3 246.9 814.4C248.6 818.5 250.3 822.87 252 827.1C253.7 831.33 255.62 836.2 257.1 839.8C258.58 843.4 259.63 845.93 260.9 848.7C262.17 851.47 263.63 854.87 264.7 856.4C265.77 857.93 266.23 858.33 267.3 857.9C268.37 857.47 269.83 855.53 271.1 853.8C272.37 852.07 273.62 849.83 274.9 847.5C276.18 845.17 277.52 842.57 278.8 839.8C280.08 837.03 281.12 834.08 282.6 830.9C284.08 827.72 286 823.67 287.7 820.7C289.4 817.73 291.1 815.32 292.8 813.1C294.5 810.88 295.98 809.32 297.9 807.4C299.82 805.48 302.18 803.62 304.3 801.6C306.42 799.58 308.7 797.42 310.6 795.3C312.5 793.18 314.13 791.42 315.7 788.9C317.27 786.38 318.55 783.35 320 780.2C321.45 777.05 322.95 773.15 324.4 770C325.85 766.85 327.02 763.6 328.7 761.3C330.38 759 332.8 756.68 334.5 756.2C336.2 755.72 337.25 756.98 338.9 758.4C340.55 759.82 342.77 762.2 344.4 764.7C346.03 767.2 347.02 769.77 348.7 773.4C350.38 777.03 352.57 782.15 354.5 786.5C356.43 790.85 358.37 794.9 360.3 799.5C362.23 804.1 364.4 809.73 366.1 814.1C367.8 818.47 369.17 822.68 370.5 825.7C371.83 828.72 372.65 831.12 374.1 832.2C375.55 833.28 377.38 831.95 379.2 832.2C381.02 832.45 383.07 833.28 385 833.7C386.93 834.12 389.1 834.83 390.8 834.7C392.5 834.57 393.5 834.4 395.2 832.9C396.9 831.4 399.25 828.27 401 825.7C402.75 823.13 404.03 820.17 405.7 817.5C407.37 814.83 409.15 811.73 411 809.7C412.85 807.67 414.63 806.75 416.8 805.3C418.97 803.85 421.83 802.45 424 801C426.17 799.55 428.1 798.3 429.8 796.6C431.5 794.9 433.05 792.62 434.2 790.8C435.35 788.98 436.28 786.55 436.7 785.7" fill="none" stroke="#00b050" stroke-width="1.7" stroke-linejoin="round"/>
<path d="M85.5 871.4C85.97 865.23 87.42 846.77 88.3 834.4C89.18 822.03 90.12 807.27 90.8 797.2C91.48 787.13 91.88 780.2 92.4 774C92.92 767.8 93.42 764 93.9 760C94.38 756 94.8 753.07 95.3 750C95.8 746.93 96.1 744.25 96.9 741.6C97.7 738.95 98.75 735.8 100.1 734.1C101.45 732.4 103.38 731.4 105 731.4C106.62 731.4 108.4 732.47 109.8 734.1C111.2 735.73 112.22 738.28 113.4 741.2C114.58 744.12 115.75 748.15 116.9 751.6C118.05 755.05 119.15 758.6 120.3 761.9C121.45 765.2 122.65 768.23 123.8 771.4C124.95 774.57 126.22 778.1 127.2 780.9C128.18 783.7 128.83 787.78 129.7 788.2C130.57 788.62 131.37 785.48 132.4 783.4C133.43 781.32 134.75 777.85 135.9 775.7C137.05 773.55 137.93 771.87 139.3 770.5C140.67 769.13 142.67 767.63 144.1 767.5C145.53 767.37 146.92 768.92 147.9 769.7C148.88 770.48 149.03 770.13 150 772.2C150.97 774.27 152.35 778.75 153.7 782.1C155.05 785.45 156.65 789.15 158.1 792.3C159.55 795.45 161.07 799.18 162.4 801C163.73 802.82 164.88 803.2 166.1 803.2C167.32 803.2 168.38 802.22 169.7 801C171.02 799.78 172.3 797.83 174 795.9C175.7 793.97 177.95 791.22 179.9 789.4C181.85 787.58 183.77 786.22 185.7 785C187.63 783.78 189.82 783.3 191.5 782.1C193.18 780.9 194.35 779.98 195.8 777.8C197.25 775.62 198.75 772.4 200.2 769C201.65 765.6 203.05 761.02 204.5 757.4C205.95 753.78 207.43 750.12 208.9 747.3C210.37 744.48 211.67 742.28 213.3 740.5C214.93 738.72 216.83 736.52 218.7 736.6C220.57 736.68 222.57 738.57 224.5 741C226.43 743.43 228.37 747.08 230.3 751.2C232.23 755.32 234.4 761.1 236.1 765.7C237.8 770.3 239.03 774.25 240.5 778.8C241.97 783.35 243.4 788.17 244.9 793C246.4 797.83 247.9 803.18 249.5 807.8C251.1 812.42 253.23 817.27 254.5 820.7C255.77 824.13 256.13 826.8 257.1 828.4C258.07 830 259.03 829.88 260.3 830.3C261.57 830.72 262.9 830.75 264.7 830.9C266.5 831.05 269.4 831.42 271.1 831.2C272.8 830.98 273.73 830.5 274.9 829.6C276.07 828.7 277.02 827.7 278.1 825.8C279.18 823.9 280.22 820.95 281.4 818.2C282.58 815.45 283.93 812.07 285.2 809.3C286.47 806.53 287.52 804.15 289 801.6C290.48 799.05 292.4 796.12 294.1 794C295.8 791.88 297.5 790.6 299.2 788.9C300.9 787.2 302.75 785.37 304.3 783.8C305.85 782.23 307.08 780.83 308.5 779.5C309.92 778.17 311.37 777.87 312.8 775.8C314.23 773.73 315.78 770.72 317.1 767.1C318.42 763.48 319.48 758.45 320.7 754.1C321.92 749.75 323.07 744.88 324.4 741C325.73 737.12 327.13 733.35 328.7 730.8C330.27 728.25 332.1 726.18 333.8 725.7C335.5 725.22 337.03 726.08 338.9 727.9C340.77 729.72 343.12 732.65 345 736.6C346.88 740.55 348.62 747.17 350.2 751.6C351.78 756.03 353.05 759.32 354.5 763.2C355.95 767.08 357.32 770.78 358.9 774.9C360.48 779.02 362.55 786.93 364 787.9C365.45 788.87 366.27 783.35 367.6 780.7C368.93 778.05 370.3 774.18 372 772C373.7 769.82 376.12 767.85 377.8 767.6C379.48 767.35 380.65 768.8 382.1 770.5C383.55 772.2 385.05 774.9 386.5 777.8C387.95 780.7 389.35 784.7 390.8 787.9C392.25 791.1 393.58 794.47 395.2 797C396.82 799.53 398.83 802.68 400.5 803.1C402.17 803.52 403.7 801.07 405.2 799.5C406.7 797.93 408.05 795.38 409.5 793.7C410.95 792.02 412.2 790.85 413.9 789.4C415.6 787.95 417.77 786.1 419.7 785C421.63 783.9 423.68 783.65 425.5 782.8C427.32 781.95 429.15 781.23 430.6 779.9C432.05 778.57 433.23 776.85 434.2 774.8C435.17 772.75 436.03 768.8 436.4 767.6" fill="none" stroke="#000000" stroke-width="1.7" stroke-linejoin="round"/>
<path d="M85.5 871.4C85.83 865.17 86.88 846.73 87.5 834C88.12 821.27 88.68 806.67 89.2 795C89.72 783.33 90.15 772.5 90.6 764C91.05 755.5 91.38 750.33 91.9 744C92.42 737.67 92.95 731.42 93.7 726C94.45 720.58 95.42 715.62 96.4 711.5C97.38 707.38 98.43 703.63 99.6 701.3C100.77 698.97 102.15 697.68 103.4 697.5C104.65 697.32 105.85 698.4 107.1 700.2C108.35 702 109.55 704.98 110.9 708.3C112.25 711.62 113.87 716.17 115.2 720.1C116.53 724.03 117.7 727.78 118.9 731.9C120.1 736.02 121.48 743.78 122.4 744.8C123.32 745.82 123.57 742.67 124.4 738C125.23 733.33 126.43 723.6 127.4 716.8C128.37 710 129.27 703.73 130.2 697.2C131.13 690.67 132.07 683.43 133 677.6C133.93 671.77 134.75 666.87 135.8 662.2C136.85 657.53 138.02 652.63 139.3 649.6C140.58 646.57 142.22 644.47 143.5 644C144.78 643.53 145.82 644.23 147 646.8C148.18 649.37 149.53 654.97 150.6 659.4C151.67 663.83 152.47 668.5 153.4 673.4C154.33 678.3 155.27 682.97 156.2 688.8C157.13 694.63 158.07 701.87 159 708.4C159.93 714.93 160.97 722.4 161.8 728C162.63 733.6 163.28 737.58 164 742C164.72 746.42 165.4 750.48 166.1 754.5C166.8 758.52 167.48 763.18 168.2 766.1C168.92 769.02 169.43 771.15 170.4 772C171.37 772.85 172.42 771.93 174 771.2C175.58 770.47 177.95 768.8 179.9 767.6C181.85 766.4 183.77 764.73 185.7 764C187.63 763.27 189.82 763.68 191.5 763.2C193.18 762.72 194.6 762.3 195.8 761.1C197 759.9 197.85 758.3 198.7 756C199.55 753.7 200.18 749.97 200.9 747.3C201.62 744.63 202.28 743.22 203 740C203.72 736.78 204.37 731.63 205.2 728C206.03 724.37 207.07 721 208 718.2C208.93 715.4 209.98 712.9 210.8 711.2C211.62 709.5 211.7 708.85 212.9 708C214.1 707.15 216.3 705.93 218 706.1C219.7 706.27 221.53 707.3 223.1 709C224.67 710.7 225.95 713.15 227.4 716.3C228.85 719.45 230.35 723.55 231.8 727.9C233.25 732.25 234.65 737.07 236.1 742.4C237.55 747.73 239.03 754.08 240.5 759.9C241.97 765.72 243.43 772.48 244.9 777.3C246.37 782.12 247.85 787.83 249.3 788.8C250.75 789.77 252.17 784.77 253.6 783.1C255.03 781.43 256.57 779.65 257.9 778.8C259.23 777.95 260.27 777.52 261.6 778C262.93 778.48 264.33 779.63 265.9 781.7C267.47 783.77 269.42 787.98 271 790.4C272.58 792.82 273.98 794.88 275.4 796.2C276.82 797.52 278.08 798.88 279.5 798.3C280.92 797.72 282.23 795.23 283.9 792.7C285.57 790.17 287.6 786.4 289.5 783.1C291.4 779.8 293.37 775.57 295.3 772.9C297.23 770.23 299.15 768.67 301.1 767.1C303.05 765.53 305.05 765.18 307 763.5C308.95 761.82 311.12 759.78 312.8 757C314.48 754.22 315.9 750.43 317.1 746.8C318.3 743.17 319.03 740.03 320 735.2C320.97 730.37 321.8 723.37 322.9 717.8C324 712.23 325.38 705.68 326.6 701.8C327.82 697.92 329 695.9 330.2 694.5C331.4 693.1 332.35 692.92 333.8 693.4C335.25 693.88 337.32 695.52 338.9 697.4C340.48 699.28 341.67 701.17 343.3 704.7C344.93 708.23 347.07 714.1 348.7 718.6C350.33 723.1 351.7 727.47 353.1 731.7C354.5 735.93 355.9 744 357.1 744C358.3 744 359.28 736.9 360.3 731.7C361.32 726.5 362.23 719.1 363.2 712.8C364.17 706.5 365.13 700.43 366.1 693.9C367.07 687.37 368.02 679.65 369 673.6C369.98 667.55 370.9 662.2 372 657.6C373.1 653 374.52 648.18 375.6 646C376.68 643.82 377.42 644.02 378.5 644.5C379.58 644.98 380.9 646.23 382.1 648.9C383.3 651.57 384.48 655.67 385.7 660.5C386.92 665.33 388.18 671.12 389.4 677.9C390.62 684.68 391.8 693.22 393 701.2C394.2 709.18 395.52 718 396.6 725.8C397.68 733.6 398.65 741.52 399.5 748C400.35 754.48 400.97 760.83 401.7 764.7C402.43 768.57 403.07 769.82 403.9 771.2C404.73 772.58 405.28 773.23 406.7 773C408.12 772.77 410.48 771.07 412.4 769.8C414.32 768.53 416.27 766.5 418.2 765.4C420.13 764.3 422.07 763.8 424 763.2C425.93 762.6 428.22 763 429.8 761.8C431.38 760.6 432.4 758.67 433.5 756C434.6 753.33 435.92 747.5 436.4 745.8" fill="none" stroke="#ff0000" stroke-width="1.7" stroke-linejoin="round"/>
<rect x="85.3" y="573.1" width="351.2" height="298.6" fill="none" stroke="#000" stroke-width="1.6"/>
<line x1="79.5" y1="871.7" x2="85.3" y2="871.7" stroke="#000" stroke-width="1.6"/>
<line x1="79.5" y1="811.98" x2="85.3" y2="811.98" stroke="#000" stroke-width="1.6"/>
<line x1="79.5" y1="752.26" x2="85.3" y2="752.26" stroke="#000" stroke-width="1.6"/>
<line x1="79.5" y1="692.54" x2="85.3" y2="692.54" stroke="#000" stroke-width="1.6"/>
<line x1="79.5" y1="632.82" x2="85.3" y2="632.82" stroke="#000" stroke-width="1.6"/>
<line x1="79.5" y1="573.1" x2="85.3" y2="573.1" stroke="#000" stroke-width="1.6"/>
<line x1="85.3" y1="871.7" x2="85.3" y2="876.9" stroke="#000" stroke-width="1.6"/>
<line x1="132.13" y1="871.7" x2="132.13" y2="876.9" stroke="#000" stroke-width="1.6"/>
<line x1="178.95" y1="871.7" x2="178.95" y2="876.9" stroke="#000" stroke-width="1.6"/>
<line x1="225.78" y1="871.7" x2="225.78" y2="876.9" stroke="#000" stroke-width="1.6"/>
<line x1="272.61" y1="871.7" x2="272.61" y2="876.9" stroke="#000" stroke-width="1.6"/>
<line x1="319.43" y1="871.7" x2="319.43" y2="876.9" stroke="#000" stroke-width="1.6"/>
<line x1="366.26" y1="871.7" x2="366.26" y2="876.9" stroke="#000" stroke-width="1.6"/>
<line x1="413.09" y1="871.7" x2="413.09" y2="876.9" stroke="#000" stroke-width="1.6"/>
<line x1="143.9" y1="28.7" x2="143.9" y2="869.5" stroke="#000" stroke-width="2.7" stroke-dasharray="7.4 3.5"/>
<line x1="261.2" y1="28.7" x2="261.2" y2="869.5" stroke="#000" stroke-width="2.7" stroke-dasharray="7.4 3.5"/>
<line x1="377.8" y1="28.7" x2="377.8" y2="869.5" stroke="#000" stroke-width="2.7" stroke-dasharray="7.4 3.5"/>
<g font-family='"Liberation Sans", sans-serif' fill="#000">
<text transform="translate(68.8 33.6) scale(1.14 1)" font-size="14" text-anchor="end" font-weight="bold" font-style="normal">1</text>
<text transform="translate(68.8 72.1) scale(1.14 1)" font-size="14" text-anchor="end" font-weight="bold" font-style="normal">0.5</text>
<text transform="translate(68.8 110.6) scale(1.14 1)" font-size="14" text-anchor="end" font-weight="bold" font-style="normal">0</text>
<text transform="translate(68.8 149.1) scale(1.14 1)" font-size="14" text-anchor="end" font-weight="bold" font-style="normal">-0.5</text>
<text transform="translate(68.8 187.6) scale(1.14 1)" font-size="14" text-anchor="end" font-weight="bold" font-style="normal">-1</text>
<text transform="translate(85.1 209.8) scale(1.14 1)" font-size="14" text-anchor="middle" font-weight="bold" font-style="normal">0</text>
<text transform="translate(131.66 209.8) scale(1.14 1)" font-size="14" text-anchor="middle" font-weight="bold" font-style="normal">10</text>
<text transform="translate(178.22 209.8) scale(1.14 1)" font-size="14" text-anchor="middle" font-weight="bold" font-style="normal">20</text>
<text transform="translate(224.78 209.8) scale(1.14 1)" font-size="14" text-anchor="middle" font-weight="bold" font-style="normal">30</text>
<text transform="translate(271.34 209.8) scale(1.14 1)" font-size="14" text-anchor="middle" font-weight="bold" font-style="normal">40</text>
<text transform="translate(317.9 209.8) scale(1.14 1)" font-size="14" text-anchor="middle" font-weight="bold" font-style="normal">50</text>
<text transform="translate(364.46 209.8) scale(1.14 1)" font-size="14" text-anchor="middle" font-weight="bold" font-style="normal">60</text>
<text transform="translate(411.02 209.8) scale(1.14 1)" font-size="14" text-anchor="middle" font-weight="bold" font-style="normal">70</text>
<text transform="translate(84.8 550.2) scale(1.14 1)" font-size="14" text-anchor="middle" font-weight="bold" font-style="normal">0</text>
<text transform="translate(131.6 550.2) scale(1.14 1)" font-size="14" text-anchor="middle" font-weight="bold" font-style="normal">10</text>
<text transform="translate(178.4 550.2) scale(1.14 1)" font-size="14" text-anchor="middle" font-weight="bold" font-style="normal">20</text>
<text transform="translate(225.2 550.2) scale(1.14 1)" font-size="14" text-anchor="middle" font-weight="bold" font-style="normal">30</text>
<text transform="translate(272 550.2) scale(1.14 1)" font-size="14" text-anchor="middle" font-weight="bold" font-style="normal">40</text>
<text transform="translate(318.8 550.2) scale(1.14 1)" font-size="14" text-anchor="middle" font-weight="bold" font-style="normal">50</text>
<text transform="translate(365.6 550.2) scale(1.14 1)" font-size="14" text-anchor="middle" font-weight="bold" font-style="normal">60</text>
<text transform="translate(412.4 550.2) scale(1.14 1)" font-size="14" text-anchor="middle" font-weight="bold" font-style="normal">70</text>
<text transform="translate(85.3 899.8) scale(1.14 1)" font-size="14" text-anchor="middle" font-weight="bold" font-style="normal">0</text>
<text transform="translate(132.13 899.8) scale(1.14 1)" font-size="14" text-anchor="middle" font-weight="bold" font-style="normal">10</text>
<text transform="translate(178.95 899.8) scale(1.14 1)" font-size="14" text-anchor="middle" font-weight="bold" font-style="normal">20</text>
<text transform="translate(225.78 899.8) scale(1.14 1)" font-size="14" text-anchor="middle" font-weight="bold" font-style="normal">30</text>
<text transform="translate(272.61 899.8) scale(1.14 1)" font-size="14" text-anchor="middle" font-weight="bold" font-style="normal">40</text>
<text transform="translate(319.43 899.8) scale(1.14 1)" font-size="14" text-anchor="middle" font-weight="bold" font-style="normal">50</text>
<text transform="translate(366.26 899.8) scale(1.14 1)" font-size="14" text-anchor="middle" font-weight="bold" font-style="normal">60</text>
<text transform="translate(413.09 899.8) scale(1.14 1)" font-size="14" text-anchor="middle" font-weight="bold" font-style="normal">70</text>
<text transform="translate(68.9 527.8) scale(1.14 1)" font-size="14" text-anchor="end" font-weight="bold" font-style="normal">0.000</text>
<text transform="translate(68.9 470.1) scale(1.14 1)" font-size="14" text-anchor="end" font-weight="bold" font-style="normal">0.005</text>
<text transform="translate(68.9 412.4) scale(1.14 1)" font-size="14" text-anchor="end" font-weight="bold" font-style="normal">0.010</text>
<text transform="translate(68.9 354.7) scale(1.14 1)" font-size="14" text-anchor="end" font-weight="bold" font-style="normal">0.015</text>
<text transform="translate(68.9 297) scale(1.14 1)" font-size="14" text-anchor="end" font-weight="bold" font-style="normal">0.020</text>
<text transform="translate(68.9 239.3) scale(1.14 1)" font-size="14" text-anchor="end" font-weight="bold" font-style="normal">0.025</text>
<text transform="translate(68.9 877) scale(1.14 1)" font-size="14" text-anchor="end" font-weight="bold" font-style="normal">0.000</text>
<text transform="translate(68.9 817.28) scale(1.14 1)" font-size="14" text-anchor="end" font-weight="bold" font-style="normal">0.005</text>
<text transform="translate(68.9 757.56) scale(1.14 1)" font-size="14" text-anchor="end" font-weight="bold" font-style="normal">0.010</text>
<text transform="translate(68.9 697.84) scale(1.14 1)" font-size="14" text-anchor="end" font-weight="bold" font-style="normal">0.015</text>
<text transform="translate(68.9 638.12) scale(1.14 1)" font-size="14" text-anchor="end" font-weight="bold" font-style="normal">0.020</text>
<text transform="translate(68.9 578.4) scale(1.14 1)" font-size="14" text-anchor="end" font-weight="bold" font-style="normal">0.025</text>
</g>
<g font-family='"Liberation Sans", sans-serif' font-weight="bold" fill="#000" font-size="14.5">
<text transform="translate(12.4,106) rotate(-90) scale(1.037 1)" text-anchor="middle">Normalised Applied</text>
<text transform="translate(33.2,106) rotate(-90) scale(1.033 1)" text-anchor="middle">Field, <tspan font-style="italic">B</tspan><tspan font-size="10" dy="2.5">a</tspan><tspan dy="-2.5"> [T]</tspan></text>
<text transform="translate(20.6,378.2) rotate(-90) scale(1.05 1)" text-anchor="middle">Electric Field [V/m]</text>
<text transform="translate(20.6,722.4) rotate(-90) scale(1.05 1)" text-anchor="middle">Electric Field [V/m]</text>
<text transform="translate(260.7 923.8) scale(1.06 1)" text-anchor="middle">Time [ms]</text>
</g>
<text transform="translate(117.8 14.3) scale(1.07 1)" font-family='"Liberation Sans", sans-serif' font-weight="bold" font-size="16.5"><tspan font-style="italic">&#8211;</tspan><tspan font-style="italic">B</tspan><tspan font-size="13" dy="4.8">max</tspan></text>
<text transform="translate(235.9 14.3) scale(1.05 1)" font-family='"Liberation Sans", sans-serif' font-weight="bold" font-size="16.5"><tspan font-style="italic">+</tspan><tspan font-style="italic">B</tspan><tspan font-size="13" dy="4.8">max</tspan></text>
<text transform="translate(350.9 14.3) scale(1.08 1)" font-family='"Liberation Sans", sans-serif' font-weight="bold" font-size="16.5"><tspan font-style="italic">&#8211;</tspan><tspan font-style="italic">B</tspan><tspan font-size="13" dy="4.8">max</tspan></text>
<text transform="translate(462.6 50.5) scale(1.075 1)" font-family='"Liberation Sans", sans-serif' font-weight="bold" font-size="17.2"><tspan font-style="italic">f</tspan> = 20 Hz</text>
<rect x="462.4" y="235.2" width="84.8" height="36" fill="#fff" stroke="#000" stroke-width="2.4"/>
<text transform="translate(482.5 260.8) scale(1.09 1)" font-family='"Liberation Sans", sans-serif' font-weight="bold" font-size="17.5">0.5 <tspan font-style="italic">I</tspan><tspan font-size="12" dx="-0.3" dy="4">c</tspan></text>
<rect x="462.4" y="573.6" width="84.8" height="36" fill="#fff" stroke="#000" stroke-width="2.4"/>
<text transform="translate(482.5 599.2) scale(1.09 1)" font-family='"Liberation Sans", sans-serif' font-weight="bold" font-size="17.5">0.9 <tspan font-style="italic">I</tspan><tspan font-size="12" dx="-0.3" dy="4">c</tspan></text>
<rect x="462.2" y="336.9" width="85" height="135.2" fill="#fff" stroke="#000" stroke-width="1.5"/>
<line x1="466.6" y1="350" x2="488.4" y2="350" stroke="#0070c0" stroke-width="2"/>
<text transform="translate(489.6 355.1) scale(1.1 1)" font-family='"Liberation Sans", sans-serif' font-weight="bold" font-size="14">20 mT</text>
<line x1="466.6" y1="377.4" x2="488.4" y2="377.4" stroke="#00b050" stroke-width="2"/>
<text transform="translate(489.6 382.5) scale(1.1 1)" font-family='"Liberation Sans", sans-serif' font-weight="bold" font-size="14">40 mT</text>
<line x1="466.6" y1="404.7" x2="488.4" y2="404.7" stroke="#ff0000" stroke-width="2"/>
<text transform="translate(489.6 409.8) scale(1.1 1)" font-family='"Liberation Sans", sans-serif' font-weight="bold" font-size="14">60 mT</text>
<line x1="466.6" y1="432" x2="488.4" y2="432" stroke="#7030a0" stroke-width="2"/>
<text transform="translate(489.6 437.1) scale(1.1 1)" font-family='"Liberation Sans", sans-serif' font-weight="bold" font-size="14">80 mT</text>
<line x1="466.6" y1="459.4" x2="488.4" y2="459.4" stroke="#f79646" stroke-width="2"/>
<text transform="translate(489.6 464.5) scale(1.1 1)" font-family='"Liberation Sans", sans-serif' font-weight="bold" font-size="14">100 mT</text>
<rect x="463.6" y="698.6" width="84.6" height="97.2" fill="#fff" stroke="#000" stroke-width="1.5"/>
<line x1="471.6" y1="710.4" x2="493.6" y2="710.4" stroke="#0070c0" stroke-width="2"/>
<text transform="translate(494.8 715.5) scale(1.1 1)" font-family='"Liberation Sans", sans-serif' font-weight="bold" font-size="14">20 mT</text>
<line x1="471.6" y1="735" x2="493.6" y2="735" stroke="#00b050" stroke-width="2"/>
<text transform="translate(494.8 740.1) scale(1.1 1)" font-family='"Liberation Sans", sans-serif' font-weight="bold" font-size="14">40 mT</text>
<line x1="471.6" y1="759.3" x2="493.6" y2="759.3" stroke="#000000" stroke-width="2"/>
<text transform="translate(494.8 764.4) scale(1.1 1)" font-family='"Liberation Sans", sans-serif' font-weight="bold" font-size="14">50 mT</text>
<line x1="471.6" y1="783.6" x2="493.6" y2="783.6" stroke="#ff0000" stroke-width="2"/>
<text transform="translate(494.8 788.7) scale(1.1 1)" font-family='"Liberation Sans", sans-serif' font-weight="bold" font-size="14">60 mT</text>
</svg>
</body></html>
